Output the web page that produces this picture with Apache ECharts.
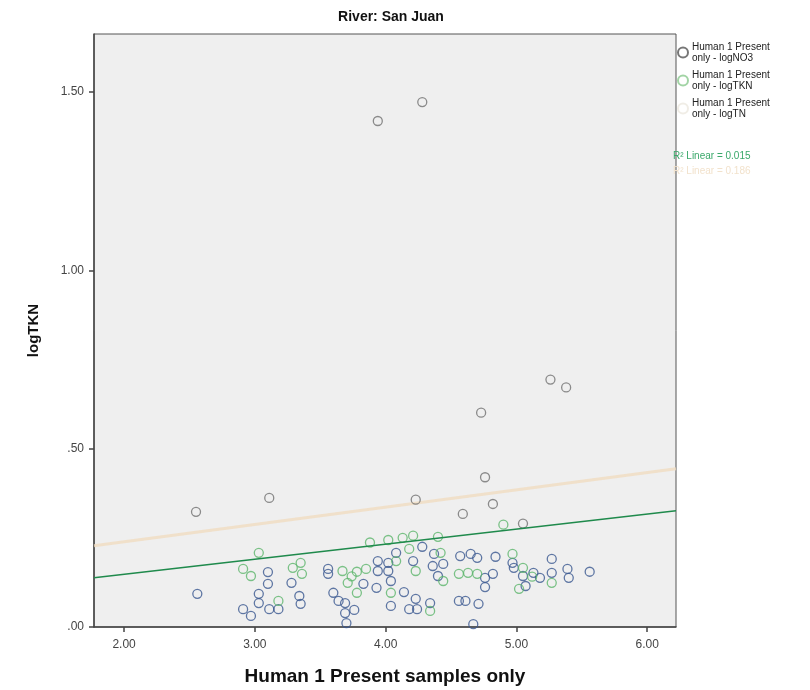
<!DOCTYPE html>
<html>
<head>
<meta charset="utf-8">
<script src="https://cdn.jsdelivr.net/npm/echarts@6/dist/echarts.min.js"></script>
<style>html,body{margin:0;padding:0;background:#fff}#c{width:810px;height:690px}</style>
</head>
<body>
<div id="c"></div>
<script>
const chartTitle = 'River: San Juan';
const xAxisName = 'Human 1 Present samples only';
const yAxisName = 'logTKN';
const seriesNames = ['Human 1 Present\nonly - logNO3', 'Human 1 Present\nonly - logTKN', 'Human 1 Present\nonly - logTN'];
const xTicks = [2, 3, 4, 5, 6];
const yTicks = [0, 0.5, 1, 1.5];

// logNO3 (blue circles)
const no3X = [3.10,3.10,3.03,3.03,2.91,2.97,3.11,3.18,3.28,3.34,3.35,3.56,3.56,3.83,3.60,3.64,3.69,3.76,3.69,3.70,3.94,3.94,3.93,2.56,
  4.28,4.02,4.08,4.21,4.02,4.04,4.14,4.04,4.18,4.23,4.24,4.34,4.37,4.36,4.44,4.40,4.57,4.65,4.70,4.76,4.82,4.76,4.84,4.56,4.61,4.71,4.67,
  4.97,4.98,5.05,5.07,5.18,5.27,5.27,5.39,5.40,5.56,5.13];
const no3Y = [0.154,0.121,0.093,0.067,0.050,0.031,0.050,0.050,0.124,0.087,0.065,0.163,0.149,0.121,0.096,0.073,0.067,0.048,0.039,0.011,0.185,0.157,0.110,0.093,
  0.225,0.180,0.208,0.185,0.157,0.129,0.098,0.059,0.050,0.079,0.050,0.067,0.205,0.171,0.177,0.143,0.199,0.205,0.194,0.138,0.149,0.112,0.197,0.073,0.073,0.065,0.008,
  0.180,0.166,0.143,0.115,0.138,0.191,0.152,0.163,0.138,0.155,0.152];
// logTKN (green circles)
const tknX = [3.03,2.91,2.97,3.18,3.29,3.35,3.36,3.67,3.78,3.85,3.71,3.78,
  4.02,4.13,4.21,4.18,4.40,4.08,4.23,4.04,4.34,4.42,4.44,4.56,4.63,4.70,4.97,5.02,5.27,5.12,5.05,4.90,3.88,3.74];
const tknY = [0.208,0.163,0.143,0.073,0.166,0.180,0.149,0.157,0.155,0.163,0.124,0.096,
  0.244,0.250,0.256,0.219,0.253,0.185,0.157,0.096,0.045,0.208,0.129,0.149,0.152,0.149,0.205,0.107,0.124,0.141,0.166,0.287,0.237,0.142];
// logTN (grey circles)
const tnX = [3.94,4.28,2.55,3.11,4.73,4.76,4.82,4.23,4.59,5.05,5.26,5.38];
const tnY = [1.419,1.472,0.323,0.362,0.601,0.420,0.345,0.357,0.317,0.290,0.694,0.672];

// Linear fit lines (end points)
const fitX = [1.77, 6.22];
const tknFitY = [0.138, 0.326];
const tnFitY = [0.228, 0.444];
const r2Labels = ['R\u00b2 Linear = 0.015', 'R\u00b2 Linear = 0.186'];

const zip = (xs, ys) => xs.map((x, i) => [x, ys[i]]);
const fmt = v => { const s = v.toFixed(2); return s.startsWith('0') ? s.slice(1) : s; };

const markerBase = { symbol: 'circle', symbolSize: 9 };
const chart = echarts.init(document.getElementById('c'));
chart.setOption({
  animation: false,
  backgroundColor: '#ffffff',
  textStyle: { fontFamily: 'Liberation Sans, Arial, sans-serif' },
  title: { text: chartTitle, left: 386, textAlign: 'center', top: 5,
    textStyle: { fontSize: 14, fontWeight: 'bold', color: '#111' } },
  grid: { left: 94, top: 34, right: 134, bottom: 63, show: true, outerBoundsMode: 'none',
    backgroundColor: '#efefef', borderColor: '#555', borderWidth: 1 },
  legend: {
    orient: 'vertical', left: 677, top: 41, padding: 0, itemWidth: 12, itemHeight: 10, itemGap: 5,
    icon: 'emptyCircle',
    textStyle: { fontSize: 10, lineHeight: 11.5, color: '#222', padding: [0,0,0,-2] },
    data: [
      { name: seriesNames[0], itemStyle: { color: '#555', borderColor: '#555', borderWidth: 1 } },
      { name: seriesNames[1], itemStyle: { color: '#8bc98f', borderColor: '#8bc98f', borderWidth: 1 } },
      { name: seriesNames[2], itemStyle: { color: '#ece8e0', borderColor: '#ece8e0', borderWidth: 1 } }
    ]
  },
  graphic: [
    { type: 'text', left: 673, top: 151, style: { text: r2Labels[0], fill: '#3aa86a', fontSize: 10, fontFamily: 'Liberation Sans, Arial' } },
    { type: 'text', left: 673, top: 166, style: { text: r2Labels[1], fill: '#f2e2cc', fontSize: 10, fontFamily: 'Liberation Sans, Arial' } }
  ],
  xAxis: {
    type: 'value', min: 1.77, max: 6.22,
    name: xAxisName, nameLocation: 'middle', nameGap: 40,
    nameTextStyle: { fontSize: 19, fontWeight: 'bold', color: '#111' },
    axisLine: { show: true, lineStyle: { color: '#444', width: 1.5 } },
    axisTick: { show: true, length: 5, customValues: xTicks, lineStyle: { color: '#444', width: 1.5 } },
    axisLabel: { customValues: xTicks, formatter: v => v.toFixed(2), fontSize: 12, color: '#444', margin: 12 },
    splitLine: { show: false }
  },
  yAxis: {
    type: 'value', min: 0, max: 1.663,
    name: yAxisName, nameLocation: 'middle', nameGap: 53, nameRotate: 90,
    nameTextStyle: { fontSize: 15, fontWeight: 'bold', color: '#111' },
    axisLine: { show: true, lineStyle: { color: '#444', width: 1.5 } },
    axisTick: { show: true, length: 5, customValues: yTicks, lineStyle: { color: '#444', width: 1.5 } },
    axisLabel: { customValues: yTicks, formatter: fmt, fontSize: 12, color: '#444', margin: 10 },
    splitLine: { show: false }
  },
  series: [
    { name: seriesNames[0], type: 'scatter', ...markerBase, data: zip(no3X, no3Y),
      itemStyle: { color: 'transparent', borderColor: '#3a5790', borderWidth: 1.3 }, z: 3 },
    { name: seriesNames[1], type: 'scatter', ...markerBase, data: zip(tknX, tknY),
      itemStyle: { color: 'transparent', borderColor: '#5cb56b', borderWidth: 1.3 }, z: 4 },
    { name: seriesNames[2], type: 'scatter', ...markerBase, data: zip(tnX, tnY),
      itemStyle: { color: 'transparent', borderColor: '#707070', borderWidth: 1.3 }, z: 5 },
    { name: 'tnFit', type: 'line', data: zip(fitX, tnFitY), symbol: 'none',
      lineStyle: { color: '#f0dcc0', width: 3, opacity: 0.8 }, z: 2 },
    { name: 'tknFit', type: 'line', data: zip(fitX, tknFitY), symbol: 'none',
      lineStyle: { color: '#1f8a4c', width: 1.5 }, z: 6 }
  ]
});
</script>
</body>
</html>
